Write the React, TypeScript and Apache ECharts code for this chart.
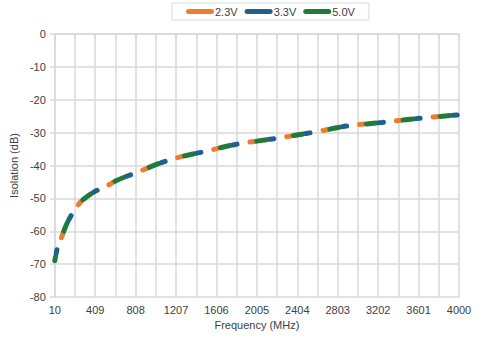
import React, { useEffect, useRef } from "react";
import * as echarts from "echarts";

const seriesNames = ["2.3V", "3.3V", "5.0V"];
const seriesColors = ["#ED7D31", "#22608C", "#1F7A3C"];
const frequencies = [10, 25, 50, 80, 120, 170, 235, 300, 400, 530, 630, 830, 1020, 1220, 1480, 1810, 2140, 2600, 2890, 3240, 3620, 4000];
const iso23 = [-66.0, -66.5, -63.8, -61.6, -58.3, -55.3, -52.2, -50.1, -48.0, -46.1, -44.4, -42.0, -39.6, -37.6, -35.8, -33.5, -32.0, -29.7, -28.0, -26.9, -25.6, -24.6];
const iso33 = [-73.5, -66.5, -63.8, -61.6, -58.3, -55.3, -52.2, -50.1, -48.0, -46.1, -44.4, -42.0, -39.6, -37.6, -35.8, -33.5, -32.0, -29.7, -28.0, -26.9, -25.6, -24.6];
const iso50 = [-69.0, -66.5, -63.8, -61.6, -58.3, -55.3, -52.2, -50.1, -48.0, -46.1, -44.4, -42.0, -39.6, -37.6, -35.8, -33.5, -32.0, -29.7, -28.0, -26.9, -25.6, -24.6];
const xTickLabels = ["10", "409", "808", "1207", "1606", "2005", "2404", "2803", "3202", "3601", "4000"];
const yTickLabels = ["0", "-10", "-20", "-30", "-40", "-50", "-60", "-70", "-80"];

const seriesValues = [iso23, iso33, iso50];
// Paths are drawn from 4000 MHz down, so all three share the same start and
// the dash phases (37px period) can be set so that each dash reads
// orange / green / blue like the overlapping dashed lines of the original.
const dashPatterns = [
  [5, 32],
  [4, 33],
  [10, 27],
];
const dashOffsets = [16, 35, 28];
const zOrder = [3, 5, 4];

export default function App() {
  const ref = useRef<HTMLDivElement>(null);
  useEffect(() => {
    if (!ref.current) return;
    const chart = echarts.init(ref.current, undefined, { renderer: "svg" });
    const font = "Liberation Sans, Arial, sans-serif";
    const pill = "path://M2.5,0 H25.5 A2.5,2.5 0 0 1 25.5,5 H2.5 A2.5,2.5 0 0 1 2.5,0 Z";
    chart.setOption({
      animation: false,
      backgroundColor: "#ffffff",
      textStyle: { fontFamily: font },
      legend: {
        data: seriesNames.map((n, i) => ({ name: n, icon: pill, itemStyle: { color: seriesColors[i] } })),
        left: 172,
        top: 3,
        padding: [3, 14],
        itemWidth: 28,
        itemHeight: 5,
        itemGap: 7,
        borderColor: "#d9d9d9",
        borderWidth: 1,
        textStyle: { fontFamily: font, fontSize: 11, color: "#404040", padding: [0, 0, 0, -4] },
      },
      grid: { left: 54, right: 24, top: 34, bottom: 44, containLabel: false },
      xAxis: {
        type: "value",
        min: 10,
        max: 4000,
        interval: 199.5,
        name: "Frequency (MHz)",
        nameLocation: "middle",
        nameGap: 21,
        nameTextStyle: { fontFamily: font, fontSize: 11, color: "#404040" },
        axisLine: { show: true, lineStyle: { color: "#d9d9d9", width: 1.5 } },
        axisTick: { show: true, length: 5, lineStyle: { color: "#d9d9d9", width: 1.5 } },
        axisLabel: {
          fontFamily: font,
          fontSize: 11,
          color: "#404040",
          margin: 7,
          showMinLabel: true,
          showMaxLabel: true,
          formatter: (v: number) => {
            const s = String(Math.round(v));
            return xTickLabels.includes(s) && Math.abs(v - Math.round(v)) < 1e-6 ? s : "";
          },
        },
        splitLine: { show: true, lineStyle: { color: "#d9d9d9", width: 1.5 } },
      },
      yAxis: {
        type: "value",
        min: -80,
        max: 0,
        interval: 10,
        name: "Isolation (dB)",
        nameLocation: "middle",
        nameGap: 27,
        nameRotate: 90,
        nameTextStyle: { fontFamily: font, fontSize: 11, color: "#404040" },
        axisLine: { show: true, lineStyle: { color: "#d9d9d9", width: 1.5 } },
        axisTick: { show: true, length: 5, lineStyle: { color: "#d9d9d9", width: 1.5 } },
        axisLabel: {
          fontFamily: font,
          fontSize: 11,
          color: "#404040",
          margin: 9,
          formatter: (v: number) => {
            const s = String(Math.round(v));
            return yTickLabels.includes(s) ? s : "";
          },
        },
        splitLine: { show: true, lineStyle: { color: "#d9d9d9", width: 1.5 } },
      },
      series: seriesNames.map((name, i) => ({
        name,
        type: "line",
        data: frequencies.map((f, k) => [f, seriesValues[i][k]]).reverse(),
        smooth: 0.35,
        showSymbol: false,
        symbol: "none",
        color: seriesColors[i],
        lineStyle: {
          color: seriesColors[i],
          width: 5,
          type: dashPatterns[i],
          dashOffset: dashOffsets[i],
          cap: "round",
        },
        z: zOrder[i],
      })),
    });
    return () => chart.dispose();
  }, []);
  return <div ref={ref} style={{ position: "fixed", left: 0, top: 0, width: 483, height: 341 }} />;
}
